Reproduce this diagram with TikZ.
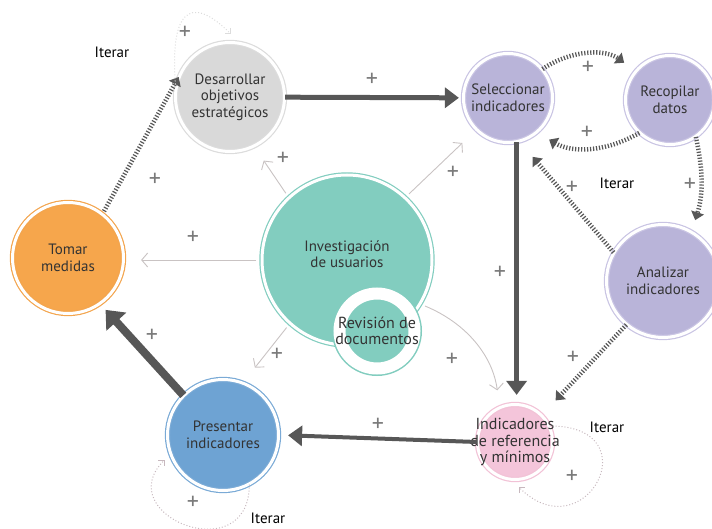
\documentclass[tikz,border=0pt]{standalone}
\usepackage{fontspec}
\setmainfont{PT Sans}
\usetikzlibrary{arrows.meta}

\definecolor{texto}{HTML}{333333}
\definecolor{oscuro}{HTML}{575757}
\definecolor{claro}{HTML}{C9C3C3}
\definecolor{rosado}{HTML}{C7B8BE}
\definecolor{gristxt}{HTML}{7A7A7A}
\definecolor{gris}{HTML}{D9D9D9}
\definecolor{grisring}{HTML}{DCDCDC}
\definecolor{lila}{HTML}{B9B4D9}
\definecolor{lilaring}{HTML}{C9C4E3}
\definecolor{rosa}{HTML}{F4C5DA}
\definecolor{rosaring}{HTML}{F2C2D6}
\definecolor{azul}{HTML}{6EA3D3}
\definecolor{azulring}{HTML}{7AAAD6}
\definecolor{naranja}{HTML}{F6A64C}
\definecolor{naranjaring}{HTML}{F3A54E}
\definecolor{turquesa}{HTML}{82CDBF}

\begin{document}
\begin{tikzpicture}[x=1pt,y=1pt,>={Triangle[length=14pt,width=20pt]},font=\fontsize{15}{16.5}\selectfont]
\tikzstyle{stage}=[circle,double=white,double distance=3pt,line width=1.2pt,inner sep=0pt,text=texto,align=center]
\tikzstyle{stext}=[text=texto,align=center]
\tikzstyle{flow}=[->,draw=oscuro,line width=5pt,shorten >=4pt]
\tikzstyle{dots}=[-{Triangle[length=8pt,width=13pt]},draw=oscuro,line width=4.5pt,dash pattern=on 1.2pt off 1.8pt]
\tikzstyle{hint}=[-{Straight Barb[length=6pt,width=14pt]},draw=claro,line width=0.9pt,shorten <=5pt]
\tikzstyle{iter}=[-{Straight Barb[length=4pt,width=8pt]},draw=rosado,line width=1pt,dotted]
\tikzstyle{plus}=[text=gristxt,font=\fontsize{24}{24}\selectfont,inner sep=0pt]

\useasboundingbox (0,0) rectangle (712,-529);

\node[stage,fill=gris,draw=grisring,minimum size=109pt]       (D) at (230,-97)  {Desarrollar\\objetivos\\estratégicos};
\node[stage,fill=lila,draw=lilaring,minimum size=89pt]        (S) at (508,-98)  {Seleccionar\\indicadores};
\node[stage,fill=lila,draw=lilaring,minimum size=89pt]        (R) at (670,-100) {Recopilar\\datos};
\node[stage,fill=lila,draw=lilaring,minimum size=113pt]       (A) at (663,-281) {Analizar\\indicadores};
\node[stage,fill=rosa,draw=rosaring,minimum size=75pt,
      label={[stext,font=\fontsize{16}{16.5}\selectfont]center:{Indicadores\\de referencia\\y mínimos}}] (I) at (515,-442) {};
\node[stage,fill=azul,draw=azulring,minimum size=111pt]       (P) at (223,-435) {Presentar\\indicadores};
\node[stage,fill=naranja,draw=naranjaring,minimum size=111pt] (T) at (68,-258)  {Tomar\\medidas};
\node[stage,fill=turquesa,draw=turquesa,minimum size=170pt,
      label={[stext,yshift=6pt]center:{Investigación\\de usuarios}}] (U) at (347,-260) {};
\node[stage,fill=turquesa,draw=turquesa,line width=1.5pt,double distance=12pt,minimum size=75pt,
      label={[stext,font=\fontsize{16}{16.5}\selectfont]center:{Revisión de\\documentos}}] (V) at (377,-331) {};

\path
(D) edge[flow] (S)
(S.-79) edge[flow,shorten >=9pt] (S.-79 |- I.north)
(I.west) edge[flow,line width=4pt,shorten >=9pt] (P.east)
(P.135) edge[flow,line width=8pt,-{Triangle[length=16pt,width=26pt]},shorten >=8pt] (T.-55)
(T.52) edge[dots,shorten >=15pt,shorten <=3pt] (D.143)
(S.40) edge[dots,bend left=35,shorten >=14pt] (R.140)
(R.227) edge[dots,bend left=30,shorten >=14pt] (S.-50)
(R.-55) edge[dots,bend left=15,shorten >=12pt] (A.60)
(A.150) edge[dots,shorten >=20pt] (S.-75)
(A.-130) edge[dots,shorten >=20pt] (I.45)
(U.180) edge[hint,shorten >=17pt] (U.180 -| T.east)
(U.133) edge[hint,shorten >=17pt] (D.-64)
(U.47) edge[hint,shorten >=19pt] (S.225)
(U.228) edge[hint,shorten >=19pt] (P.69)
(U.-31) edge[hint,bend left=30,shorten >=17pt] (I.114)
(D.170) edge[iter,draw=grisring,out=95,in=135,looseness=2.4,shorten >=12pt] (D.80)
(I.25) edge[iter,out=0,in=-45,looseness=4,shorten >=10pt] (I.-95)
(P.-62) edge[iter,out=-90,in=-135,looseness=2.6,shorten >=8pt] (P.200)
;

% signos +
\foreach \x/\y [count=\i] in {185/33,372/80,588/68,587/133,690/185,572/188,453/173,283/159,155/180,
  193/238,500/273,452/360,573/358,572/477,378/425,277/355,152/336,193/503}
  \node[plus] (p\i) at (\x,-\y) {+};

% Iterar
\foreach \x/\y [count=\i] in {112/52,617/183,607/427,268/518}
  \node (it\i) at (\x,-\y) {Iterar};
\end{tikzpicture}
\end{document}
